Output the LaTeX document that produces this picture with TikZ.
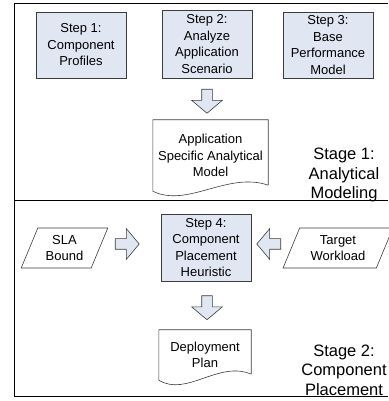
\documentclass[tikz,border=0pt]{standalone}
\usepackage{fontspec}
\setmainfont{Liberation Sans}
\usepackage{tikz}
\usetikzlibrary{shapes,arrows,positioning,calc}

\definecolor{stepfill}{RGB}{225,231,242}
\definecolor{edgegray}{RGB}{60,60,60}

\tikzset{
  stepbox/.style={draw=edgegray, line width=0.6pt, fill=stepfill, minimum width=90pt,
    align=center, font=\fontsize{13}{16.5}\selectfont, inner sep=2pt},
  inputbox/.style={trapezium, trapezium stretches=true, trapezium left angle=66,
    trapezium right angle=114, draw=edgegray, line width=0.6pt, minimum height=40pt,
    align=center, font=\fontsize{13}{16.5}\selectfont, inner sep=1pt},
  docbox/.style={minimum width=#1, inner sep=0pt, align=center,
    font=\fontsize{13}{16.5}\selectfont},
  blockarrow/.style={single arrow, draw=edgegray, line width=0.6pt, fill=stepfill,
    minimum height=24pt, inner sep=5pt, single arrow head extend=10pt,
    single arrow tip angle=100},
  stagetext/.style={align=center, font=\fontsize{16.5}{19.5}\selectfont},
  frameline/.style={line width=1pt}
}

% document symbol with a wavy bottom edge
\newcommand{\docoutline}[1]{%
  \draw[draw=edgegray, line width=0.6pt] ([yshift=6pt]#1.south east) -- (#1.north east)
    -- (#1.north west) -- (#1.south west)
    .. controls ($(#1.south west)!0.3!(#1.south east)+(0,-17pt)$)
    and ($(#1.south west)!0.65!(#1.south east)+(0,20pt)$) .. ([yshift=6pt]#1.south east);
}

\begin{document}
\begin{tikzpicture}[x=1pt,y=1pt]
  \useasboundingbox (0,0) rectangle (388,401);

  % frame of the two stages
  \draw[frameline] (388,397) -- (14,397) -- (14,4) -- (388,4);
  \draw[frameline] (14,200) -- (388,200);

  % stage 1
  \node[stepbox, minimum height=66pt] (prof) at (81,356) {Step 1:\\Component\\Profiles};
  \node[stepbox, minimum height=68pt] (scen) at (207,357) {Step 2:\\Analyze\\Application\\Scenario};
  \node[stepbox, minimum height=66pt] (perf) at (328,356) {Step 3:\\Base\\Performance\\Model};
  \node[docbox=115pt, minimum height=71pt] (model) at (210.5,245.5) {Application\\Specific Analytical\\Model};
  \docoutline{model}
  \node[blockarrow, rotate=-90] (arr1) at (207,302) {};
  \node[stagetext] (stage1) at (344,226) {Stage 1:\\Analytical\\Modeling};

  % stage 2
  \node[stepbox, minimum height=67pt] (heur) at (206,153.5) {Step 4:\\Component\\Placement\\Heuristic};
  \node[inputbox, minimum width=87pt] (sla) at (64.5,153) {SLA\\Bound};
  \node[inputbox, minimum width=110pt] (load) at (338,153) {Target\\Workload};
  \node[blockarrow] (arr2) at (125,157) {};
  \node[blockarrow, rotate=180] (arr3) at (271,157) {};
  \node[blockarrow, rotate=-90] (arr4) at (207,95.5) {};
  \node[docbox=92pt, minimum height=50pt] (plan) at (205,46) {Deployment\\Plan};
  \docoutline{plan}
  \node[stagetext] (stage2) at (344,31) {Stage 2:\\Component\\Placement};
\end{tikzpicture}
\end{document}
